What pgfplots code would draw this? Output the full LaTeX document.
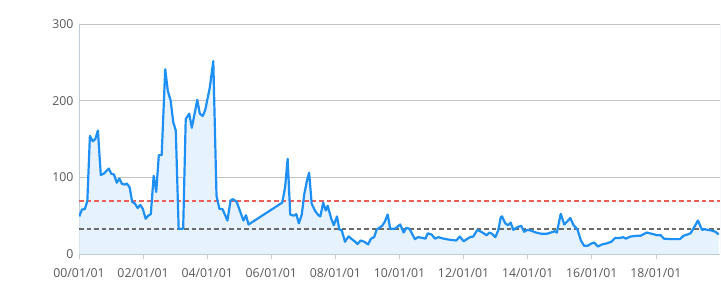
\documentclass[border=0pt]{standalone}
\usepackage{fontspec}
\setmainfont{Open Sans}
\usepackage{pgfplots}
\pgfplotsset{compat=1.18}
\definecolor{lineblue}{HTML}{1E90F5}
\definecolor{fillblue}{HTML}{E6F2FE}
\definecolor{axcol}{HTML}{C2CCD8}
\definecolor{gridcol}{HTML}{C4C4C4}
\definecolor{labcol}{HTML}{5A5A5A}
\definecolor{myred}{HTML}{EC5F5A}
\definecolor{mygray}{HTML}{6A6A6A}
\pgfplotstableread{
x y
2000.01 49
2000.09 58
2000.18 58.5
2000.26 69
2000.34 154
2000.43 147
2000.51 150
2000.59 161
2000.68 103
2000.78 105
2000.87 109
2000.93 111.5
2001.01 104.6
2001.09 103.7
2001.18 93
2001.26 98.5
2001.34 91.5
2001.43 90.6
2001.49 92
2001.58 87
2001.66 68
2001.74 66
2001.83 60
2001.91 64
2001.99 59
2002.08 46
2002.16 50
2002.24 52
2002.33 102
2002.41 81
2002.49 129
2002.58 129
2002.69 241
2002.77 213
2002.86 200
2002.94 172
2003.02 161
2003.11 33
2003.25 33
2003.33 176
2003.44 183
2003.52 164.6
2003.69 201
2003.77 183
2003.86 180
2003.94 188
2004.08 217
2004.19 251.5
2004.29 76
2004.38 59
2004.48 58.5
2004.63 43.7
2004.73 70
2004.81 71.5
2004.92 68
2005.13 43.7
2005.21 50.6
2005.29 38.5
2006.34 67
2006.43 87
2006.51 124
2006.59 51.5
2006.70 50
2006.78 52
2006.86 40
2006.95 51.5
2007.03 78.5
2007.12 97
2007.18 106
2007.26 65.5
2007.37 56
2007.47 50.6
2007.53 49
2007.62 67
2007.70 56.7
2007.76 63
2007.87 46
2007.95 37.6
2008.05 49
2008.12 32.3
2008.20 30.7
2008.30 16
2008.41 23
2008.51 19.4
2008.62 16
2008.69 13
2008.79 17.6
2008.90 16
2009.02 12.4
2009.11 20
2009.21 22
2009.29 32
2009.46 36.8
2009.54 42
2009.63 51.5
2009.71 33
2009.86 33
2010.02 38.5
2010.13 28
2010.21 34
2010.31 33
2010.48 19.4
2010.58 22
2010.71 21
2010.81 20
2010.88 27
2011.00 25.4
2011.11 20
2011.21 22
2011.38 20
2011.58 18.5
2011.77 17.6
2011.88 22.8
2012.00 16.7
2012.20 22
2012.30 22.8
2012.43 31.5
2012.55 29
2012.72 24.5
2012.80 28
2012.89 26.3
2012.99 22
2013.08 30.7
2013.16 48
2013.20 49
2013.30 40
2013.39 37.6
2013.47 41
2013.55 31.5
2013.68 35
2013.80 36.8
2013.89 29
2013.99 31.5
2014.09 30.7
2014.26 28
2014.43 26.3
2014.59 26.3
2014.72 28
2014.84 29.7
2014.91 28
2015.03 52.4
2015.14 38.5
2015.24 42.8
2015.33 47
2015.43 37.6
2015.55 32.3
2015.66 17.6
2015.76 10.7
2015.87 10.7
2015.97 13.3
2016.07 15
2016.19 9.8
2016.31 12.4
2016.48 14
2016.61 16
2016.73 21
2016.90 21
2016.98 22
2017.06 20
2017.21 22.8
2017.38 23.7
2017.52 23.7
2017.71 28
2017.88 26.3
2018.04 24.5
2018.15 24.5
2018.25 20
2018.46 19.4
2018.56 19.4
2018.75 19.4
2018.86 23.7
2018.98 25.4
2019.08 27
2019.21 36
2019.31 43.7
2019.44 31.5
2019.52 32.3
2019.61 31.5
2019.73 30.7
2019.86 29
2019.96 25.4
}\series
\begin{document}
\begin{tikzpicture}
\useasboundingbox (-79bp,-42bp) rectangle (642bp,254bp);
\begin{axis}[
  at={(0,0)}, anchor=south west,
  scale only axis, width=641bp, height=230bp,
  xmin=2000, xmax=2020, ymin=0, ymax=300,
  xtick={2000,2002,...,2018},
  xticklabels={00/01/01,02/01/01,04/01/01,06/01/01,08/01/01,10/01/01,12/01/01,14/01/01,16/01/01,18/01/01},
  ytick={0,100,200,300},
  ymajorgrids, major grid style={gridcol, line width=0.8bp},
  axis line style={axcol, line width=0.8bp},
  axis x line*=bottom, axis y line*=left,
  x tick style={axcol, line width=0.8bp},
  major tick length=5bp,
  xtick pos=bottom, xtick align=outside,
  y tick style={draw=none},
  ticklabel style={font=\fontsize{12.3bp}{14bp}\selectfont, text=labcol},
  xticklabel style={yshift=-6bp},
  yticklabel style={xshift=-2bp},
  /pgf/number format/assume math mode=true,
  clip=true,
]
\draw[axcol, line width=0.8bp] (axis cs:2020,0) -- (axis cs:2020,300);
\addplot[draw=none, fill=fillblue] table {\series} \closedcycle;
\addplot[draw=myred, line width=1.6bp, dash pattern=on 4.5bp off 3bp] coordinates {(2000,69) (2020,69)};
\addplot[draw=mygray, line width=1.6bp, dash pattern=on 4.5bp off 3bp] coordinates {(2000,33) (2020,33)};
\addplot[draw=lineblue, line width=2.2bp, line join=round] table {\series};
\end{axis}
\end{tikzpicture}
\end{document}
